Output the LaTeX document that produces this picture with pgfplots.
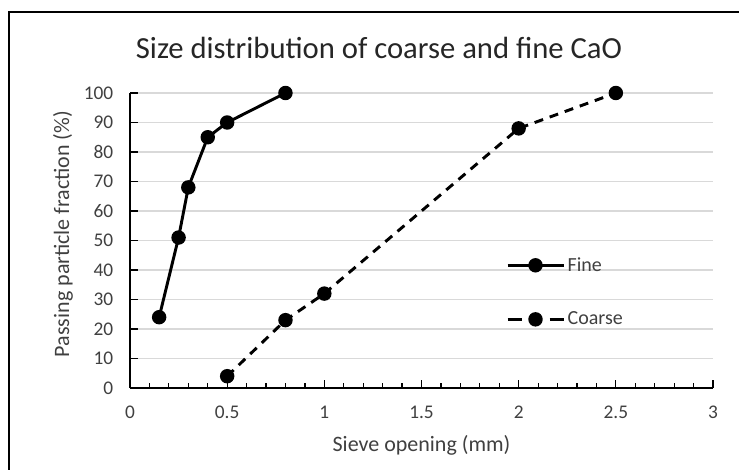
\documentclass[border=0pt]{standalone}
\usepackage{fontspec}
\setmainfont{Carlito}
\usepackage{pgfplots}
\pgfplotsset{compat=1.18}
\definecolor{gridgray}{HTML}{D9D9D9}
\definecolor{txt}{HTML}{404040}
\pgfplotsset{
  solidlegend/.style={legend image code/.code={\draw[mark repeat=2,mark phase=2,##1]
    plot coordinates {(0pt,0pt)(21pt,0pt)(42pt,0pt)};}},
  dashedlegend/.style={legend image code/.code={\draw[mark repeat=2,mark phase=2,##1,
    dash pattern=on 10.5pt off 21pt]
    plot coordinates {(0pt,0pt)(21pt,0pt)(42pt,0pt)};}},
}

\begin{document}
\begin{tikzpicture}[x=0.75pt,y=0.75pt]
\useasboundingbox (0,0) rectangle (739,470);
% chart frame (only left and top edges fall inside the picture)
\draw[line width=1.5pt] (8.5,0) -- (8.5,457.5) -- (739,457.5);
\node[anchor=base, font=\fontsize{23}{28}\selectfont, text=black!85]
  at (379,411) {Size distribution of coarse and fine CaO};
\begin{axis}[
  at={(97.5pt,61.5pt)}, anchor=south west,
  scale only axis, width=437.25pt, height=221.25pt,
  xmin=0, xmax=3, ymin=0, ymax=100,
  axis x line*=bottom, axis y line*=left,
  axis line style={line width=1pt, black},
  xtick={0,0.5,...,3}, ytick={0,10,...,100},
  minor x tick num=4,
  tick align=inside,
  major tick length=6pt, minor tick length=3.5pt,
  tick style={black, line width=0.9pt},
  ymajorgrids, grid style={gridgray, line width=1pt},
  /pgf/number format/assume math mode=true,
  ticklabel style={font=\fontsize{14.5}{17}\selectfont, text=txt},
  xticklabel style={yshift=-10pt},
  yticklabel style={xshift=-9pt},
  label style={font=\fontsize{16.5}{19}\selectfont, text=txt},
  xlabel={Sieve opening (mm)},
  ylabel={Passing particle fraction (\%)},
  xlabel style={at={(axis description cs:0.5,-0.193)}, anchor=center},
  ylabel style={at={(axis description cs:-0.115,0.522)}, anchor=center},
  clip=false,
  legend style={draw=none, fill=none, inner sep=0pt, outer sep=0pt,
    font=\fontsize{15}{18}\selectfont, text=txt, row sep=25pt,
    at={(axis description cs:0.645,0.325)}, anchor=west},
  legend cell align=left,
  solidlegend,
]
\addplot[black, line width=2.2pt, mark=*, mark size=4.3pt]
  coordinates {(0.15,24)(0.25,51)(0.3,68)(0.4,85)(0.5,90)(0.8,100)};
\addlegendentry{Fine}
\addplot[black, line width=2.2pt, dash pattern=on 6.75pt off 5.25pt,
  mark=*, mark size=4.3pt, mark options={solid}, dashedlegend]
  coordinates {(0.5,4)(0.8,23)(1,32)(2,88)(2.5,100)};
\addlegendentry{Coarse}
\end{axis}
\end{tikzpicture}
\end{document}
